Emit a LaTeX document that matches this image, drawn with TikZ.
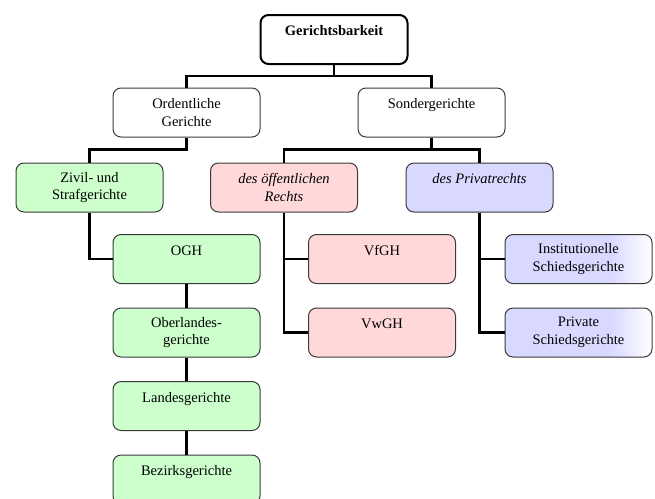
\documentclass[tikz,border=0pt]{standalone}
\usepackage{fontspec}
\setmainfont{Liberation Serif}
\definecolor{zivilgreen}{HTML}{CCFFCC}
\definecolor{oeffpink}{HTML}{FFD9D9}
\definecolor{privblue}{HTML}{D9D9FF}
\definecolor{boxline}{HTML}{3A3A3A}
\pgfdeclarehorizontalshading{privfade}{100bp}{color(0bp)=(privblue); color(61bp)=(privblue); color(75bp)=(white); color(100bp)=(white)}
\tikzset{
    court/.style={draw=boxline, line width=1pt, rounded corners=8pt,
        minimum width=147pt, minimum height=49pt, inner sep=2pt,
        align=center, font=\fontsize{14.5}{17.5}\selectfont},
    rootbox/.style={court, draw=black, line width=2pt, font=\fontsize{14.5}{17.5}\selectfont\bfseries},
    zivil/.style={court, fill=zivilgreen},
    oeff/.style={court, fill=oeffpink},
    priv/.style={court, fill=privblue},
    schied/.style={court, shading=privfade},
    link/.style={line width=2.8pt},
}

\begin{document}
\begin{tikzpicture}[x=1pt, y=-1pt]
\useasboundingbox (0,0) rectangle (655,498);
%\draw[step=50pt, gray!30] (0,0) grid (655,498);

% top levels
\node[rootbox] (gb) at (334,39.5) {Gerichtsbarkeit\\\mbox{}};
\node[court] (ord) at (186.5,112.5) {Ordentliche\\Gerichte};
\node[court] (sond) at (431.5,112.5) {Sondergerichte\\\mbox{}};

% second row
\node[zivil] (zivil) at (89.5,187.5) {Zivil- und\\Strafgerichte};
\node[oeff] (oeffr) at (284,187.5) {\textit{des öffentlichen}\\\textit{Rechts}};
\node[priv] (privr) at (479.5,187.5) {\textit{des Privatrechts}\\\mbox{}};

% instanzen
\node[zivil] (ogh) at (186.5,259) {OGH\\\mbox{}};
\node[zivil] (olg) at (186.5,332.5) {Oberlandes-\\gerichte};
\node[zivil] (lg) at (186.5,406) {Landesgerichte\\\mbox{}};
\node[zivil] (bg) at (186.5,479.5) {Bezirksgerichte\\\mbox{}};

\node[oeff] (vfgh) at (382,259) {VfGH\\\mbox{}};
\node[oeff] (vwgh) at (382,332.5) {VwGH\\\mbox{}};

\node[schied] (inst) at (578.5,259) {Institutionelle\\Schiedsgerichte};
\node[schied] (prsg) at (578.5,332.5) {Private\\Schiedsgerichte};

% connectors
\draw[link] (gb.south) -- ++(0,11) -| (ord.north);
\draw[link] (gb.south) -- ++(0,11) -| (sond.north);
\draw[link] (ord.south) -- ++(0,12) -| (zivil.north);
\draw[link] (sond.south) -- ++(0,12) -| (oeffr.north);
\draw[link] (sond.south) -- ++(0,12) -| (privr.north);
\draw[link] (zivil.south) |- (ogh.west);
\draw[link] (ogh) -- (olg);
\draw[link] (olg) -- (lg);
\draw[link] (lg) -- (bg);
\draw[link] (oeffr.south) |- (vfgh.west);
\draw[link] (oeffr.south) |- (vwgh.west);
\draw[link] (privr.south) |- (inst.west);
\draw[link] (privr.south) |- (prsg.west);
\end{tikzpicture}
\end{document}
